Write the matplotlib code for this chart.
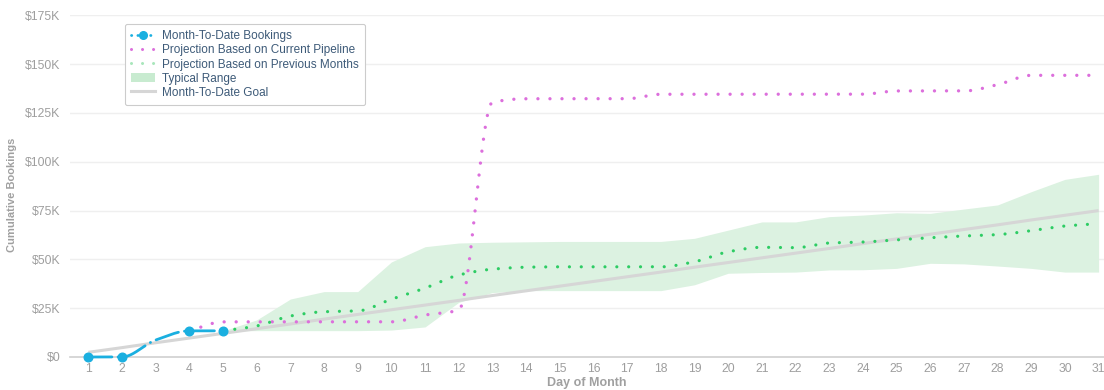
import numpy as np
import matplotlib
matplotlib.use("Agg")
import matplotlib.pyplot as plt
from matplotlib.lines import Line2D
from matplotlib.patches import Patch

# ---------------- data ----------------
days = list(range(1, 32))

booking_days = [1, 2, 3, 4, 5]
booking_vals = [0, 0, 8700, 13400, 13400]

pipeline_days = list(range(4, 32))
pipeline_vals = [13400, 18000, 18000, 18000, 18000, 18000, 18000, 21500, 24000,
                 130500, 132300, 132300, 132300, 132300, 134600, 134600, 134600,
                 134600, 134600, 134600, 134600, 136300, 136300, 136300, 139500,
                 144300, 144300, 144300]

prev_days = list(range(5, 32))
prev_vals = [13400, 15900, 21000, 23200, 23600, 29600, 35300, 42000, 45000,
             46000, 46200, 46200, 46200, 46200, 48800, 53900, 56200, 56000,
             58400, 58900, 60000, 61100, 62000, 62700, 64700, 67100, 68300]

range_days = list(range(5, 32))
range_low = [13400, 13500, 13500, 13500, 13500, 13800, 15400, 28000, 33000,
             34000, 34000, 34000, 34000, 34000, 37000, 42900, 43300, 43500,
             44600, 44700, 45400, 48000, 47700, 46600, 45400, 43500, 43500]
range_high = [13400, 19000, 29700, 33500, 33500, 48700, 56500, 58400, 58800,
              59000, 59200, 59200, 59200, 59200, 60800, 65000, 69200, 69200,
              71900, 72700, 73900, 73600, 75800, 77900, 84700, 91000, 93600]

goal_vals = [2400, 4800, 7300, 9700, 12100, 14500, 16900, 19400, 21800, 24200,
             26600, 29000, 31500, 33900, 36300, 38700, 41100, 43500, 46000,
             48400, 50800, 53200, 55600, 58100, 60500, 62900, 65300, 67700,
             70200, 72600, 75000]

y_ticks = [0, 25000, 50000, 75000, 100000, 125000, 150000, 175000]
y_ticklabels = ["$0", "$25K", "$50K", "$75K", "$100K", "$125K", "$150K", "$175K"]

legend_labels = ["Month-To-Date Bookings", "Projection Based on Current Pipeline",
                 "Projection Based on Previous Months", "Typical Range",
                 "Month-To-Date Goal"]

# ---------------- smoothing (monotone cubic, like a spline series) ----------------
def pchip(x, y, n=40):
    x = np.asarray(x, float); y = np.asarray(y, float)
    h = np.diff(x); d = np.diff(y) / h
    m = np.zeros_like(y)
    for i in range(1, len(y) - 1):
        if d[i - 1] * d[i] > 0:
            w1 = 2 * h[i] + h[i - 1]; w2 = h[i] + 2 * h[i - 1]
            m[i] = (w1 + w2) / (w1 / d[i - 1] + w2 / d[i])
    m[0] = d[0]
    m[-1] = d[-1]
    xs, ys = [], []
    for i in range(len(h)):
        t = np.linspace(0, 1, n, endpoint=(i == len(h) - 1))
        h00 = 2 * t**3 - 3 * t**2 + 1; h10 = t**3 - 2 * t**2 + t
        h01 = -2 * t**3 + 3 * t**2; h11 = t**3 - t**2
        xs.append(x[i] + t * h[i])
        ys.append(h00 * y[i] + h10 * h[i] * m[i] + h01 * y[i + 1] + h11 * h[i] * m[i + 1])
    return np.concatenate(xs), np.concatenate(ys)

# ---------------- figure ----------------
plt.rcParams['font.family'] = ['Liberation Sans', 'DejaVu Sans']
fig = plt.figure(figsize=(11.04, 3.9), dpi=100)
ax = fig.add_axes([70 / 1104, 33 / 390, 1034 / 1104, 341.6 / 390])

blue = '#1aafe0'
pink = '#dc6fdc'
green = '#2ecc64'
band = '#dcf2e1'
goal_c = '#d6d6d6'

ax.fill_between(range_days, range_low, range_high, color=band, lw=0, zorder=1)
ax.plot(days, goal_vals, color=goal_c, lw=2.2, zorder=2, solid_capstyle='butt')

px, py = pchip(pipeline_days, pipeline_vals)
ax.plot(px, py, color=pink, lw=2.4, linestyle=(0, (0.01, 3.6)),
        dash_capstyle='round', zorder=3)
gx, gy = pchip(prev_days, prev_vals)
ax.plot(gx, gy, color=green, lw=2.3, linestyle=(0, (0.01, 3.7)),
        dash_capstyle='round', zorder=3)

bx, by = pchip(booking_days, booking_vals)
ax.plot(bx, by, color=blue, lw=2.0, linestyle=(0, (8.5, 2.2, 0.1, 2.2)),
        dash_capstyle='round', zorder=4, clip_on=False)
ax.plot([booking_days[i] for i in (0, 1, 3, 4)], [booking_vals[i] for i in (0, 1, 3, 4)],
        linestyle='none', marker='o', ms=6.2, color=blue, mec=blue, zorder=5, clip_on=False)

ax.set_xlim(0.456, 31.16)
ax.set_ylim(0, 175000)
ax.set_xticks(days)
ax.set_xticklabels([str(d) for d in days])
ax.set_yticks(y_ticks)
ax.set_yticklabels(y_ticklabels)
ax.tick_params(axis='both', length=0, labelsize=8.8, colors='#9e9e9e')
ax.tick_params(axis='y', pad=7)
ax.tick_params(axis='x', pad=4)
ax.grid(axis='y', color='#efefef', lw=1)
ax.set_axisbelow(True)
for s in ['top', 'right', 'left']:
    ax.spines[s].set_visible(False)
ax.spines['bottom'].set_color('#d0d0d0')
ax.spines['bottom'].set_linewidth(1.2)

ax.set_ylabel("Cumulative Bookings", fontsize=8, color='#a0a0a0', fontweight='bold')
ax.yaxis.set_label_coords(-53 / 1034, 0.475)
ax.set_xlabel("Day of Month", fontsize=9, color='#a0a0a0', fontweight='bold', labelpad=2)

handles = [
    Line2D([0], [0], color=blue, lw=2.0, linestyle=(0, (0.1, 2.2)), dash_capstyle='round',
           marker='o', ms=5.5, markevery=[1]),
    Line2D([0], [0], color=pink, lw=2.2, linestyle=(0, (0.01, 3.6)), dash_capstyle='round'),
    Line2D([0], [0], color='#a8e6bb', lw=2.2, linestyle=(0, (0.01, 3.6)), dash_capstyle='round'),
    Patch(facecolor='#c8ebd0', edgecolor='none'),
    Line2D([0], [0], color=goal_c, lw=2.2),
]
leg = ax.legend(handles, legend_labels, loc='upper left',
                bbox_to_anchor=(125 / 1104, 1 - 24 / 390), bbox_transform=fig.transFigure,
                fontsize=8.5, frameon=True, fancybox=True, framealpha=1,
                edgecolor='#cccccc', handlelength=2.0, handletextpad=0.6,
                labelspacing=0.17, borderpad=0.55, borderaxespad=0)
for t in leg.get_texts():
    t.set_color('#3d5a78')
leg.get_frame().set_linewidth(0.8)

fig.savefig("out.png", dpi=100, facecolor='white')
